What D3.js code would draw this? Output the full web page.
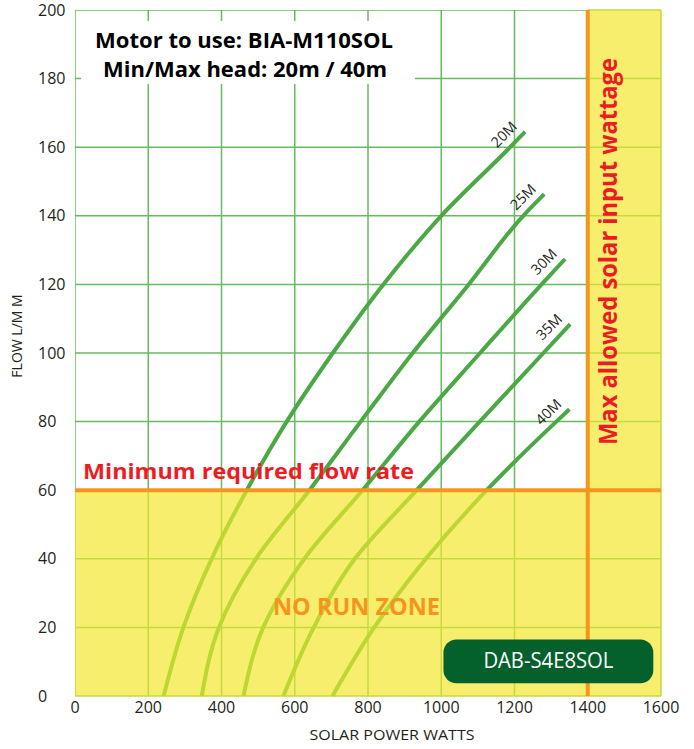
<!DOCTYPE html>
<html><head><meta charset="utf-8">
<script src="https://cdn.jsdelivr.net/npm/d3@7"></script>
<style>
body{margin:0;background:#fff}
svg{display:block}
text{font-family:"Open Sans","DejaVu Sans",sans-serif}
</style>
</head><body>
<svg id="chart" width="694" height="749"></svg>
<script>
// ---------- data ----------
const xTicks = [0, 200, 400, 600, 800, 1000, 1200, 1400, 1600];
const yTicks = [0, 20, 40, 60, 80, 100, 120, 140, 160, 180, 200];
const heads = ["20M", "25M", "30M", "35M", "40M"];
const watts20 = [242, 296, 373, 469, 578, 704, 842, 1000, 1188, 1229];
const flow20  = [0, 20, 40, 60, 80, 100, 120, 140, 160, 164.5];
const watts25 = [346, 393, 494, 640, 780, 922, 1075, 1224, 1281];
const flow25  = [0, 20, 40, 60, 80, 100, 120, 140, 146.3];
const watts30 = [460, 514, 626, 785, 940, 1106, 1274, 1338];
const flow30  = [0, 20, 40, 60, 80, 100, 120, 127.4];
const watts35 = [569, 652, 764, 933, 1105, 1279, 1352];
const flow35  = [0, 20, 40, 60, 80, 100, 108.4];
const watts40 = [703, 817, 958, 1124, 1314, 1350];
const flow40  = [0, 20, 40, 60, 80, 83.6];
const minFlow = 60;
const maxWatts = 1400;
const titleLines = ["Motor to use: BIA-M110SOL", "Min/Max head: 20m / 40m"];
const minFlowLabel = "Minimum required flow rate";
const noRunLabel = "NO RUN ZONE";
const maxWattLabel = "Max allowed solar input wattage";
const modelLabel = "DAB-S4E8SOL";
const xTitle = "SOLAR POWER WATTS";
const yTitle = "FLOW L/M M";

const wattsSeries = [watts20, watts25, watts30, watts35, watts40];
const flowSeries = [flow20, flow25, flow30, flow35, flow40];

// ---------- setup ----------
const svg = d3.select("#chart");
const x = d3.scaleLinear().domain([0, 1600]).range([75, 661]);
const y = d3.scaleLinear().domain([0, 200]).range([696, 10]);

const C = {
  yellow: "#f8ee6d", gridG: "#66bb5e", gridY: "#c4da3e",
  curveDark: "#4aa944", curveLight: "#bcd632", orange: "#f7941d",
  red: "#ed1c24", ink: "#231f20", dab: "#04612b"
};

const defs = svg.append("defs");
defs.append("clipPath").attr("id", "whiteZone").append("rect")
  .attr("x", x(0)).attr("y", y(200)).attr("width", x(maxWatts) - x(0)).attr("height", y(minFlow) - y(200));
const yz = defs.append("clipPath").attr("id", "yellowZone");
yz.append("rect").attr("x", x(0)).attr("y", y(minFlow)).attr("width", x(1600) - x(0)).attr("height", y(0) - y(minFlow) + 2);
yz.append("rect").attr("x", x(maxWatts)).attr("y", y(200) - 2).attr("width", x(1600) - x(maxWatts) + 2).attr("height", y(0) - y(200) + 4);
defs.append("clipPath").attr("id", "below").append("rect")
  .attr("x", 0).attr("y", y(minFlow)).attr("width", 694).attr("height", 749 - y(minFlow));
defs.append("clipPath").attr("id", "above").append("rect")
  .attr("x", 0).attr("y", 0).attr("width", 694).attr("height", y(minFlow));

// background zones
svg.append("rect").attr("x", x(0)).attr("y", y(200)).attr("width", x(1600) - x(0)).attr("height", y(0) - y(200)).attr("fill", "#fff");
svg.append("rect").attr("x", x(0)).attr("y", y(minFlow)).attr("width", x(1600) - x(0)).attr("height", y(0) - y(minFlow)).attr("fill", C.yellow);
svg.append("rect").attr("x", x(maxWatts)).attr("y", y(200)).attr("width", x(1600) - x(maxWatts)).attr("height", y(0) - y(200)).attr("fill", C.yellow);

function grid(color, clip) {
  const g = svg.append("g").attr("clip-path", `url(#${clip})`).attr("stroke", color).attr("stroke-width", 1.5);
  g.selectAll("line.v").data(xTicks).join("line").attr("class", "v")
    .attr("x1", d => x(d)).attr("x2", d => x(d)).attr("y1", y(0)).attr("y2", y(200));
  g.selectAll("line.h").data(yTicks).join("line").attr("class", "h")
    .attr("x1", x(0)).attr("x2", x(1600)).attr("y1", d => y(d)).attr("y2", d => y(d));
}
grid(C.gridG, "whiteZone");
grid(C.gridY, "yellowZone");

// title box (white, covers grid)
svg.append("rect").attr("x", 81).attr("y", 21).attr("width", 334).attr("height", 63).attr("fill", "#fff");

// curves
const line = d3.line().x(d => x(d[0])).y(d => y(d[1])).curve(d3.curveMonotoneY);
const curveData = heads.map((h, i) => ({ head: h, pts: wattsSeries[i].map((w, j) => [w, flowSeries[i][j]]) }));
svg.append("g").attr("clip-path", "url(#below)").selectAll("path").data(curveData).join("path")
  .attr("d", d => line(d.pts)).attr("fill", "none").attr("stroke", C.curveLight).attr("stroke-width", 4);
svg.append("g").attr("clip-path", "url(#above)").selectAll("path").data(curveData).join("path")
  .attr("d", d => line(d.pts)).attr("fill", "none").attr("stroke", C.curveDark).attr("stroke-width", 4);

// curve labels
svg.append("g").selectAll("text").data(curveData).join("text")
  .attr("transform", d => { const p = d.pts[d.pts.length - 1]; return `translate(${x(p[0])},${y(p[1])}) rotate(-45)`; })
  .attr("x", -2).attr("y", -8).attr("text-anchor", "end")
  .attr("font-size", 14.5).attr("fill", C.ink).text(d => d.head);

// orange limit lines
svg.append("line").attr("x1", x(0)).attr("x2", x(1600)).attr("y1", y(minFlow)).attr("y2", y(minFlow))
  .attr("stroke", C.orange).attr("stroke-width", 4);
svg.append("line").attr("x1", x(maxWatts)).attr("x2", x(maxWatts)).attr("y1", y(200)).attr("y2", y(0))
  .attr("stroke", C.orange).attr("stroke-width", 4);

// title
svg.append("text").attr("x", 244).attr("y", 48).attr("text-anchor", "middle").attr("font-size", 21).attr("font-weight", 700)
  .attr("fill", "#000").attr("textLength", 298).attr("lengthAdjust", "spacingAndGlyphs").text(titleLines[0]);
svg.append("text").attr("x", 245).attr("y", 77).attr("text-anchor", "middle").attr("font-size", 21).attr("font-weight", 700)
  .attr("fill", "#000").attr("textLength", 284).attr("lengthAdjust", "spacingAndGlyphs").text(titleLines[1]);

// annotations
svg.append("text").attr("x", 83).attr("y", 479).attr("font-size", 22).attr("font-weight", 700).attr("fill", C.red)
  .attr("textLength", 331).attr("lengthAdjust", "spacingAndGlyphs").text(minFlowLabel);
svg.append("text").attr("x", 273).attr("y", 615).attr("font-size", 23).attr("font-weight", 700).attr("fill", C.orange)
  .attr("textLength", 167).attr("lengthAdjust", "spacingAndGlyphs").text(noRunLabel);
svg.append("text").attr("transform", "translate(617,445) rotate(-90)").attr("font-size", 25).attr("font-weight", 700)
  .attr("fill", C.red).attr("textLength", 387).attr("lengthAdjust", "spacingAndGlyphs").text(maxWattLabel);

// model badge
svg.append("rect").attr("x", x(1006)).attr("y", y(16.5)).attr("width", x(1579) - x(1006)).attr("height", y(3.7) - y(16.5))
  .attr("rx", 13).attr("fill", C.dab);
svg.append("text").attr("x", (x(1006) + x(1579)) / 2).attr("y", 668).attr("text-anchor", "middle").attr("font-size", 21)
  .attr("fill", "#fff").attr("textLength", 130).attr("lengthAdjust", "spacingAndGlyphs").text(modelLabel);

// axes tick labels
svg.append("g").selectAll("text").data(xTicks).join("text")
  .attr("x", d => x(d)).attr("y", 713).attr("text-anchor", "middle").attr("font-size", 16).attr("fill", C.ink).text(d => d);
svg.append("g").selectAll("text").data(yTicks).join("text")
  .attr("x", 38).attr("y", d => y(d)).attr("dy", "0.35em").attr("font-size", 16).attr("fill", C.ink).text(d => d);

// axis titles
svg.append("text").attr("x", 392).attr("y", 740).attr("text-anchor", "middle").attr("font-size", 15).attr("fill", C.ink)
  .attr("textLength", 165).attr("lengthAdjust", "spacingAndGlyphs").text(xTitle);
svg.append("text").attr("transform", "translate(22,336) rotate(-90)").attr("text-anchor", "middle").attr("font-size", 14)
  .attr("fill", C.ink).text(yTitle);
</script>
</body></html>
